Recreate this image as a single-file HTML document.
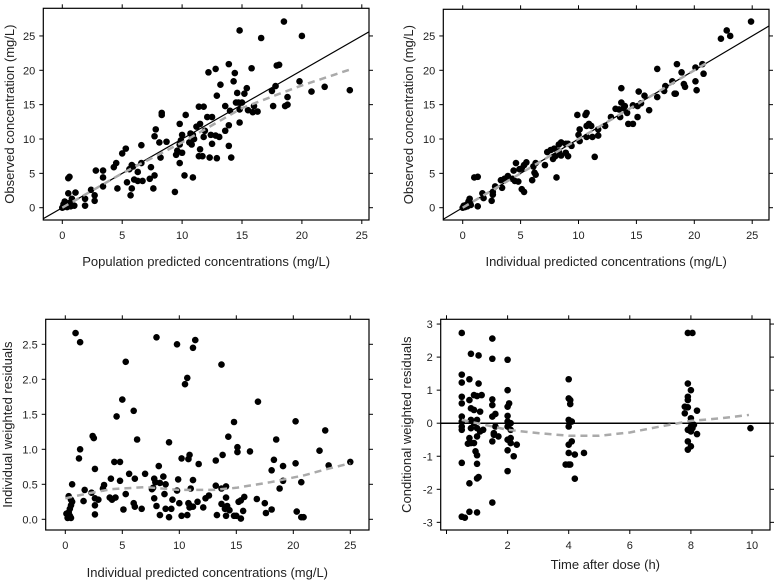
<!DOCTYPE html>
<html><head><meta charset="utf-8"><style>
html,body{margin:0;padding:0;background:#fff;}
svg{display:block;font-family:"Liberation Sans",Arial,sans-serif;}
</style></head><body>
<svg id="chart" width="777" height="582" viewBox="0 0 777 582" xmlns="http://www.w3.org/2000/svg"></svg>
<script>
const p1Points=[[14.8,25.8],[16.6,24.7],[18.5,27.1],[20,25],[12.2,19.7],[12.8,20.2],[13.9,20.9],[14.4,19.6],[14.3,18.4],[15.8,20.3],[17.9,20.7],[18.1,20.8],[19.8,18.4],[20.8,16.9],[21.9,17.6],[24,17.1],[13.2,17.9],[12.9,16.3],[15.4,17.4],[14.6,16.7],[15.2,16.6],[17.8,17.7],[17.5,17],[18.8,16.1],[18.6,14.8],[18.8,15],[17.6,14.8],[16,14.8],[16.3,14],[15.9,13.9],[15.5,14.2],[14.7,15.3],[14.5,15.3],[15,15.3],[14.8,14.3],[13.6,14.8],[11.4,14.7],[11.8,14.7],[12.1,13.2],[12.5,13.2],[11.5,12.2],[11.2,11.8],[10.3,13.5],[9.8,12.2],[8.3,13.8],[8.3,13.5],[7.8,11.4],[7.7,10.4],[8.1,9.5],[8.7,9.6],[8.2,7.3],[9.6,8.3],[9.8,9.2],[10,10.6],[10.7,10.8],[10.9,10.6],[10.6,9.5],[10.8,9.2],[11.5,8.5],[11.4,7.5],[11.7,7.5],[12.3,7.3],[12.9,7.2],[12.5,9.3],[12.4,10.6],[12.8,10.5],[13.1,10.3],[11.8,10.3],[11.9,11.2],[11,10],[13.9,12],[13.6,11.2],[13.9,9],[14.1,7.3],[14.8,12.4],[14,14.1],[9.5,7.7],[10,8],[9.8,6.5],[10.2,4.7],[10.9,4.4],[9.4,2.3],[9.9,9.8],[7.4,5.9],[7.3,4.2],[7.7,4.7],[7.6,2.8],[6.6,9.1],[5.3,8.6],[5,7.9],[4.5,6.5],[4.3,5.9],[5.6,5.6],[5.8,6.2],[5.9,6],[6.6,6.5],[6.3,5.2],[6,4.1],[6.3,3.9],[6.7,3.9],[5.4,3.7],[5.8,2.8],[5.7,1.8],[4.6,2.8],[3.4,5.4],[3.4,4.4],[3.4,3.1],[2.8,5.4],[2.7,1.8],[2.7,1],[2.4,2.6],[1.9,1.3],[1.9,0.3],[1.1,2.2],[0.5,2.1],[0.5,4.3],[0.6,4.5],[0.8,1.3],[1.0,0.3],[0.2,0.9],[0.1,0.5],[0.3,0.2],[0.5,0.3],[0.4,0.1],[0.1,0.1],[0.6,0.7],[0.3,0.6],[0.0,0.0],[0.7,0.2]];
const p1Trend=[[0,0],[5,5],[10,9.5],[15,14.5],[18,16.5],[20,17.8],[24,20.1]];
const p2Points=[[24.9,27.1],[22.8,25.8],[22.3,24.6],[23.1,25],[16.8,20.2],[18.5,20.9],[18.9,19.7],[20.1,20.4],[20.7,20.9],[20.8,19.5],[20.1,18.4],[20.2,17.1],[19.1,18],[19.2,17.6],[18.1,18.4],[18.3,16.6],[18.4,16.6],[17.4,17],[17.5,17.7],[16.8,16.1],[15.7,16.3],[15.2,16.9],[15.4,15.2],[15.1,14.8],[14.7,14.9],[16.1,14.2],[15.1,13.2],[14.7,12.2],[14.3,12.2],[13.7,17.4],[13.7,15.3],[13.5,14.3],[13.9,14.5],[14,14.8],[13.2,14.4],[13.6,13.2],[14.2,13.8],[12.8,13.2],[12.3,11.9],[11.7,11.4],[11.7,10.5],[11.1,11.9],[10.9,12.2],[10.7,13.8],[10.6,13.5],[10.7,11.9],[11.2,10.3],[10.7,10.3],[11.4,7.4],[9.9,13.5],[10.1,11.4],[10,10.6],[10.1,9.7],[9.4,9],[9.1,9.3],[8.9,9.3],[8.5,9.5],[8.3,9.2],[8.9,8],[9.1,7.5],[8.3,8.2],[8,7.5],[7.8,7.1],[7.9,8.6],[7.6,8.4],[7.3,8.1],[8.1,4.4],[8.5,7.6],[7.1,6.2],[6.3,6.5],[6.1,6],[6.2,5.1],[6.3,4.8],[6,4],[5.5,6.6],[5.3,6.2],[5.1,5.7],[4.9,5.6],[4.4,5.4],[4.6,6.5],[4.3,4.2],[4.5,3.9],[4.8,3.8],[5.1,2.7],[5.3,2.3],[3.9,4.6],[3.6,4.2],[3.3,4],[3.4,2.9],[2.8,3.1],[2.6,1.9],[2.5,1],[2.6,2.3],[1.7,2.1],[1.8,1.4],[1.0,4.4],[1.3,4.5],[1.3,0.2],[0.6,1.3],[0.5,0.9],[0.3,0.4],[0.6,0.6],[0.2,0.1],[0.4,0.2],[0.1,0.3],[0.7,0.4],[0,0]];
const p2Trend=[[0,0],[5,5],[10,10],[15,15],[21,21]];
const p3Points=[[0.9,2.66],[1.3,2.53],[5.3,2.25],[8,2.6],[9.8,2.5],[11.4,2.56],[11.2,2.45],[10.7,2.02],[10.5,1.93],[13.7,2.21],[5,1.71],[6,1.55],[4.5,1.47],[16.9,1.68],[14.8,1.39],[20.2,1.4],[22.8,1.27],[2.4,1.19],[2.5,1.16],[6.3,1.14],[9.1,1.1],[14.3,1.18],[18.5,1.14],[15.1,1.03],[15.1,0.96],[16.2,0.97],[22.3,0.98],[1.3,1.0],[1.2,0.87],[4.3,0.82],[4.8,0.82],[10.2,0.87],[10.9,0.92],[10.8,0.86],[13.8,0.92],[13.2,0.84],[11.7,0.79],[18.3,0.85],[19.1,0.76],[20.2,0.8],[23.1,0.77],[25,0.82],[2.6,0.72],[8.2,0.76],[18.1,0.7],[5.6,0.65],[7,0.65],[4,0.58],[4.8,0.55],[6.1,0.58],[7.8,0.58],[7.9,0.53],[8.6,0.61],[8.3,0.52],[8.8,0.5],[9.9,0.57],[11.2,0.56],[19.1,0.55],[20.7,0.53],[0.6,0.5],[3.4,0.49],[3.3,0.44],[2.3,0.38],[1.7,0.42],[7.6,0.43],[7.7,0.45],[8.7,0.36],[9.8,0.41],[11,0.44],[13.2,0.48],[13.7,0.44],[14.1,0.47],[18.8,0.44],[5.3,0.36],[4.4,0.31],[3.9,0.31],[4.1,0.28],[2.6,0.3],[2.9,0.28],[0.3,0.33],[0.5,0.28],[0.6,0.25],[0.5,0.2],[0.4,0.15],[1.6,0.26],[2.6,0.2],[7.8,0.3],[9.4,0.28],[10,0.23],[10.9,0.2],[11,0.18],[11.6,0.25],[12.3,0.3],[12.6,0.34],[13.7,0.22],[14.1,0.31],[14.2,0.19],[14,0.15],[15.2,0.25],[15.4,0.27],[15.7,0.32],[16.8,0.29],[17.5,0.23],[6,0.23],[6.1,0.18],[6.7,0.15],[5.1,0.14],[8,0.19],[8.8,0.15],[9.3,0.15],[10.8,0.23],[10.9,0.17],[11.2,0.18],[12.1,0.17],[14.4,0.13],[15.6,0.12],[18.1,0.14],[17.6,0.09],[20.3,0.11],[2.6,0.07],[0.1,0.08],[0.2,0.02],[0.3,0.1],[0.5,0.02],[0.4,0.05],[8.3,0.06],[9.1,0.03],[10.2,0.05],[10.7,0.06],[13.3,0.06],[14.1,0.05],[14.8,0.05],[15,0.05],[15.4,0.01],[20.7,0.03],[20.9,0.03],[0.3,0.04]];
const p3Trend=[[0,0.3],[2,0.37],[4,0.43],[7,0.46],[10,0.42],[13,0.42],[15,0.45],[18,0.53],[21,0.63],[23,0.72],[25,0.8]];
const p4Points=[[0.5,2.73],[0.5,1.47],[0.5,1.23],[0.5,0.8],[0.5,0.6],[0.5,0.2],[0.5,0.05],[0.5,-0.1],[0.5,-0.2],[0.5,-1.2],[0.5,-2.83],[0.6,-2.86],[0.7,-0.62],[0.8,2.1],[0.75,1.33],[0.75,0.7],[0.8,0.45],[0.8,0.1],[0.8,-0.15],[0.75,-0.45],[0.8,-0.6],[0.75,-1.82],[0.75,-2.68],[0.9,0.85],[0.9,0.4],[0.9,0.0],[0.9,-0.6],[0.95,-0.85],[1.0,0.82],[1.05,2.05],[1.05,1.2],[1.0,0.1],[1.0,-0.15],[1.0,-0.4],[1.0,-0.97],[1.0,-1.23],[1.0,-1.67],[1.05,-1.63],[1.0,-2.7],[1.1,0.35],[1.1,-0.25],[1.15,0.85],[1.2,-0.2],[1.5,2.56],[1.5,1.95],[1.5,0.72],[1.5,0.55],[1.5,0.2],[1.5,-0.55],[1.5,-2.4],[1.6,0.28],[1.55,-0.3],[1.6,-0.1],[1.7,-0.4],[1.55,-0.35],[2,1.92],[2,1.0],[2,0.5],[2,0.22],[2,0.05],[2,-0.1],[2,-0.5],[2,-0.82],[2,-1.45],[2.05,0.6],[2.1,-0.2],[2.1,-0.45],[2.1,-0.6],[2.2,-1.0],[2.3,-0.65],[2.1,0.0],[4,1.33],[4,0.75],[4,0.1],[4,-0.1],[4,-0.65],[4,-0.9],[4,-1.25],[3.9,-1.25],[4.05,0.7],[4.05,0.58],[4.1,0.05],[4.1,-0.55],[4.2,-0.95],[4.2,-1.68],[4.5,-0.9],[4.05,-1.25],[7.9,2.73],[8.05,2.73],[7.9,1.2],[8,1.0],[7.9,0.8],[7.9,0.7],[7.8,0.5],[7.9,0.48],[7.8,0.3],[8.2,0.38],[8,0.15],[8,0.05],[8,-0.1],[8,-0.25],[7.9,-0.2],[8.1,-0.05],[7.9,-0.55],[8,-0.7],[7.9,-0.8],[8.2,-0.33],[8.05,-0.15],[9.95,-0.15]];
const p4Trend=[[0.5,0.1],[1,0],[2,-0.2],[3,-0.3],[4,-0.38],[5,-0.38],[6,-0.28],[7,-0.1],[8,0.07],[9,0.15],[9.9,0.25]];
const concTicks=[0,5,10,15,20,25];
const iwresTicks=[0,0.5,1,1.5,2,2.5];
const iwresTickLabels=["0.0","0.5","1.0","1.5","2.0","2.5"];
const cwresTicks=[-3,-2,-1,0,1,2,3];
const timeTicks=[0,2,4,6,8,10];
const timeTickLabels=["","2","4","6","8","10"];

const NS="http://www.w3.org/2000/svg";
const svg=document.getElementById('chart');
function mk(tag,attrs,parent){const e=document.createElementNS(NS,tag);for(const k in attrs)e.setAttribute(k,attrs[k]);(parent||svg).appendChild(e);return e;}

function panel(cfg){
  const g=mk('g',{});
  
  
  const sx=v=>cfg.x0+(v-cfg.xv0)*cfg.xs;
  const sy=v=>cfg.y0-(v-cfg.yv0)*cfg.ys;
  const b=cfg.box;
  const clipId='clip-'+cfg.name;
  const cp=mk('clipPath',{id:clipId},g);mk('rect',{x:b[0],y:b[1],width:b[2]-b[0],height:b[3]-b[1]},cp);
  // ticks
  cfg.xt.forEach((t,i)=>{
    const x=sx(t);
    const tk=mk('line',{x1:x,x2:x,y1:b[3],y2:b[3]+4,stroke:'#000','stroke-width':1},g);
    
    mk('line',{x1:x,x2:x,y1:b[1],y2:b[1]-4,stroke:'#000','stroke-width':1},g);
    const tl=mk('text',{x:x,y:b[3]+19,'text-anchor':'middle','font-size':11,fill:'#222'},g);
    tl.textContent=cfg.xl?cfg.xl[i]:String(t);
    
  });
  cfg.yt.forEach((t,i)=>{
    const y=sy(t);
    const tk=mk('line',{x1:b[0],x2:b[0]-4,y1:y,y2:y,stroke:'#000','stroke-width':1},g);
    
    mk('line',{x1:b[2],x2:b[2]+4,y1:y,y2:y,stroke:'#000','stroke-width':1},g);
    const tl=mk('text',{x:b[0]-8,y:y+4,'text-anchor':'end','font-size':11,fill:'#222'},g);
    tl.textContent=cfg.yl?cfg.yl[i]:String(t);
    
  });
  const inner=mk('g',{'clip-path':'url(#'+clipId+')'},g);
  if(cfg.ref==='identity'){
    const l=mk('line',{x1:sx(-5),y1:sy(-5),x2:sx(30),y2:sy(30),stroke:'#000','stroke-width':1.2},inner);
    
  } else if(cfg.ref==='zero'){
    const l=mk('line',{x1:b[0],y1:sy(0),x2:b[2],y2:sy(0),stroke:'#000','stroke-width':1.5},inner);
    
  }
  cfg.pts.forEach(p=>{
    const c=mk('circle',{cx:sx(p[0]),cy:sy(p[1]),r:3.3,fill:'#000'},inner);
    
  });
  const tr=mk('polyline',{points:cfg.trend.map(p=>sx(p[0])+','+sy(p[1])).join(' '),fill:'none',stroke:'#aaa','stroke-width':2.5,'stroke-dasharray':'7,5'},inner);
  
  const box=mk('rect',{x:b[0],y:b[1],width:b[2]-b[0],height:b[3]-b[1],fill:'none',stroke:'#000','stroke-width':1.2},g);
  
  const xt=mk('text',{x:(b[0]+b[2])/2,y:cfg.xty,'text-anchor':'middle','font-size':13,fill:'#222'},g);
  xt.textContent=cfg.xtitle;
  const cy=(b[1]+b[3])/2;
  const yt=mk('text',{x:cfg.ytx,y:cy,'text-anchor':'middle','font-size':13,fill:'#222',transform:'rotate(-90 '+cfg.ytx+' '+cy+')'},g);
  yt.textContent=cfg.ytitle;
}

panel({name:'obs-vs-pred-panel',box:[43.3,8.3,369,220],x0:62.3,xv0:0,xs:11.98,y0:207.7,yv0:0,ys:6.87,xt:concTicks,yt:concTicks,pts:p1Points,trend:p1Trend,ref:'identity',xtitle:'Population predicted concentrations (mg/L)',xty:266,ytitle:'Observed concentration (mg/L)',ytx:14});
panel({name:'obs-vs-ipred-panel',box:[443.3,9.3,769,220],x0:462.7,xv0:0,xs:11.58,y0:207.7,yv0:0,ys:6.87,xt:concTicks,yt:concTicks,pts:p2Points,trend:p2Trend,ref:'identity',xtitle:'Individual predicted concentrations (mg/L)',xty:266,ytitle:'Observed concentration (mg/L)',ytx:413});
panel({name:'iwres-vs-ipred-panel',box:[45.7,319.3,369,530],x0:65.3,xv0:0,xs:11.4,y0:519.3,yv0:0,ys:70,xt:concTicks,yt:iwresTicks,yl:iwresTickLabels,pts:p3Points,trend:p3Trend,ref:null,xtitle:'Individual predicted concentrations (mg/L)',xty:577,ytitle:'Individual weighted residuals',ytx:12});
panel({name:'cwres-vs-time-panel',box:[440.7,319.3,770,530],x0:446.5,xv0:0,xs:30.55,y0:423.2,yv0:0,ys:33.05,xt:timeTicks,xl:timeTickLabels,yt:cwresTicks,pts:p4Points,trend:p4Trend,ref:'zero',xtitle:'Time after dose (h)',xty:569,ytitle:'Conditional weighted residuals',ytx:411});
</script>
</body></html>
